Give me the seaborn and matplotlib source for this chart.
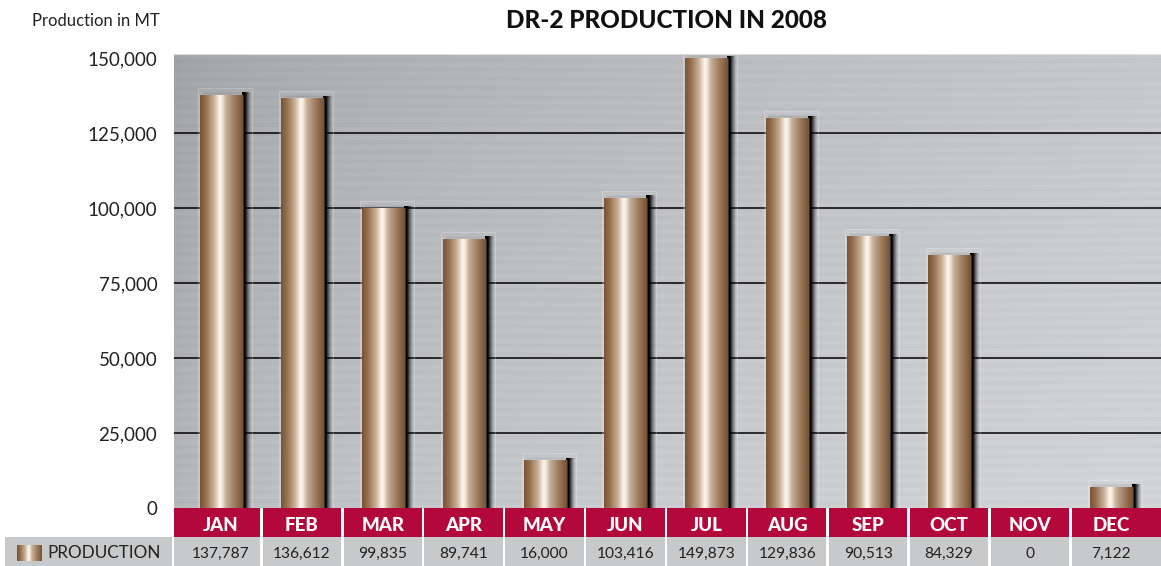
import numpy as np
import pandas as pd
import matplotlib
matplotlib.use("Agg")
import matplotlib.pyplot as plt
import seaborn as sns
from matplotlib.patches import Rectangle

# ---------------- data ----------------
months = ["JAN", "FEB", "MAR", "APR", "MAY", "JUN", "JUL", "AUG", "SEP", "OCT", "NOV", "DEC"]
production = [137787, 136612, 99835, 89741, 16000, 103416, 149873, 129836, 90513, 84329, 0, 7122]
y_ticks = [0, 25000, 50000, 75000, 100000, 125000, 150000]
title = "DR-2 PRODUCTION IN 2008"
y_label = "Production in MT"
series_name = "PRODUCTION"

# ---------------- style ----------------
sns.set_style("white")
plt.rcParams["font.family"] = ["Lato", "DejaVu Sans"]

W, H = 1161, 566
fig = plt.figure(figsize=(W / 100, H / 100), dpi=100)
fig.patch.set_facecolor("white")

PLOT_L, PLOT_R, PLOT_T, PLOT_B = 174, 1161, 54, 508
HDR_B = 537
TBL_B = 566
YMAX = (PLOT_B - PLOT_T) / 75.0 * 25000
N = len(months)
unit_px = 80.9
XL = -0.5 - (180.5 - PLOT_L) / unit_px
XR = XL + (PLOT_R - PLOT_L) / unit_px

ax = fig.add_axes([PLOT_L / W, (H - PLOT_B) / H, (PLOT_R - PLOT_L) / W, (PLOT_B - PLOT_T) / H])

df = pd.DataFrame({"month": months, "production": production})
sns.barplot(data=df, x="month", y="production", order=months, color="#9a7555",
            width=0.52, ax=ax, zorder=3, saturation=1)

ax.set_xlim(XL, XR)
ax.set_ylim(0, YMAX)

# brushed-metal background
ny, nx = 460, 500
yy = np.linspace(0, 1, ny)[:, None]
xx = np.linspace(0, 1, nx)[None, :]
v = 0.655 + 0.125 * np.sqrt(xx) + 0.05 * yy - 0.03 * (1 - yy) * (1 - xx)
streak = (0.010 * np.sin(yy * 310.0 + 0.9 * np.sin(xx * 7.0))
          + 0.007 * np.sin(yy * 977.0 + 2.0 * np.sin(xx * 3.1))
          + 0.005 * np.sin(yy * 1711.0 + xx * 4.0))
v = np.clip(v + streak, 0, 1)
bg = np.stack([v, v + 0.004, v + 0.018], axis=-1)
bg = np.clip(bg, 0, 1)
ax.imshow(bg, extent=(XL, XR, 0, YMAX), aspect="auto", zorder=0,
          origin="upper", interpolation="bilinear")
ax.axhline(YMAX, color="#dcdcdc", lw=1.5, zorder=1)

# gridlines
for t in y_ticks[1:-1]:
    ax.axhline(t, color="black", lw=1.1, zorder=1)

# bar gradient
stops = np.array([0.0, 0.12, 0.32, 0.46, 0.52, 0.6, 0.8, 1.0])
cols = np.array([
    [120, 84, 52],
    [146, 108, 76],
    [200, 174, 148],
    [252, 248, 242],
    [240, 228, 215],
    [200, 178, 156],
    [158, 124, 94],
    [116, 82, 50],
]) / 255.0
gx = np.linspace(0, 1, 200)
grad = np.stack([np.interp(gx, stops, cols[:, c]) for c in range(3)], axis=-1)[None, :, :]

shadow = np.zeros((1, 60, 4))
sx = np.linspace(0, 1, 60)
shadow[..., 3] = np.where(sx < 0.3, 1.0, np.clip(1 - (sx - 0.3) / 0.7, 0, 1) ** 1.5)

topsh = np.zeros((30, 1, 4))
topsh[..., 3] = (np.linspace(0.0, 1.0, 30) ** 2 * 0.18)[:, None]

ypx = YMAX / (PLOT_B - PLOT_T)
for p in ax.patches:
    x0, w, h = p.get_x(), p.get_width(), p.get_height()
    if h <= 0:
        continue
    # faint halo frame
    ax.add_patch(Rectangle((x0 - 2 / unit_px, 0), w + 12 / unit_px, h + 7 * ypx,
                           facecolor=(1, 1, 1, 0.04), edgecolor=(1, 1, 1, 0.22),
                           lw=0.8, zorder=2))
    # soft shadow above the top
    ax.imshow(topsh, extent=(x0 + 2 / unit_px, x0 + w + 6 / unit_px, h, h + 4 * ypx),
              aspect="auto", zorder=2.4, interpolation="bilinear", origin="upper")
    # shadow on right
    ax.imshow(shadow, extent=(x0 + w, x0 + w + 10 / unit_px, 0, h + 2 * ypx),
              aspect="auto", zorder=2.5, interpolation="bilinear")
    im = ax.imshow(grad, extent=(x0, x0 + w, 0, h), aspect="auto", zorder=4,
                   interpolation="bilinear")
    im.set_clip_path(p)

ax.set_yticks(y_ticks)
ax.set_yticklabels([f"{t:,}" for t in y_ticks], fontsize=13.5, color="#222222")
ax.tick_params(axis="y", length=0, pad=12)
ax.set_xticks([])
ax.set_xlabel("")
ax.set_ylabel("")
for s in ax.spines.values():
    s.set_visible(False)

gap = 2.5 / unit_px

# header row (month names)
hax = fig.add_axes([PLOT_L / W, (H - HDR_B) / H, (PLOT_R - PLOT_L) / W, (HDR_B - PLOT_B) / H])
hax.set_xlim(XL, XR)
hax.set_ylim(0, 1)
hax.axis("off")
# table row (values)
tax = fig.add_axes([PLOT_L / W, 0, (PLOT_R - PLOT_L) / W, (TBL_B - HDR_B) / H])
tax.set_xlim(XL, XR)
tax.set_ylim(0, 1)
tax.axis("off")
for i, (m, v_) in enumerate(zip(months, production)):
    left = XL if i == 0 else i - 0.5 + gap / 2
    right = XR if i == N - 1 else i + 0.5 - gap / 2
    hax.add_patch(Rectangle((left, 0), right - left, 1, facecolor="#b3093a", edgecolor="none"))
    hax.text(i, 0.40, m, ha="center", va="center", color="white",
             fontsize=13.5, fontweight="black")
    tax.add_patch(Rectangle((left, 0), right - left, 1, facecolor="#c8c9cb", edgecolor="none"))
    tax.text(i, 0.42, f"{v_:,}", ha="center", va="center", color="#222222",
             fontsize=11.2)

# legend cell
lax = fig.add_axes([5 / W, 0, (PLOT_L - 2 - 5) / W, (TBL_B - HDR_B) / H])
lax.axis("off")
lax.add_patch(Rectangle((5, HDR_B), PLOT_L - 2 - 5, TBL_B - HDR_B, facecolor="#c8c9cb",
                        edgecolor="none"))
lax.imshow(grad, extent=(17, 41, 561, 545), aspect="auto", interpolation="bilinear", zorder=3)
lax.text(47, 553.5, series_name, ha="left", va="center", fontsize=12.3, color="#222222")
lax.set_xlim(5, PLOT_L - 2)
lax.set_ylim(TBL_B, HDR_B)

# titles
fig.text(666 / W, 1 - 21 / H, title, ha="center", va="center", fontsize=17.5,
         fontweight="black", color="#111111")
fig.text(160 / W, 1 - 21 / H, y_label, ha="right", va="center", fontsize=12,
         color="#222222")

fig.savefig("out.png", dpi=100, facecolor="white")
